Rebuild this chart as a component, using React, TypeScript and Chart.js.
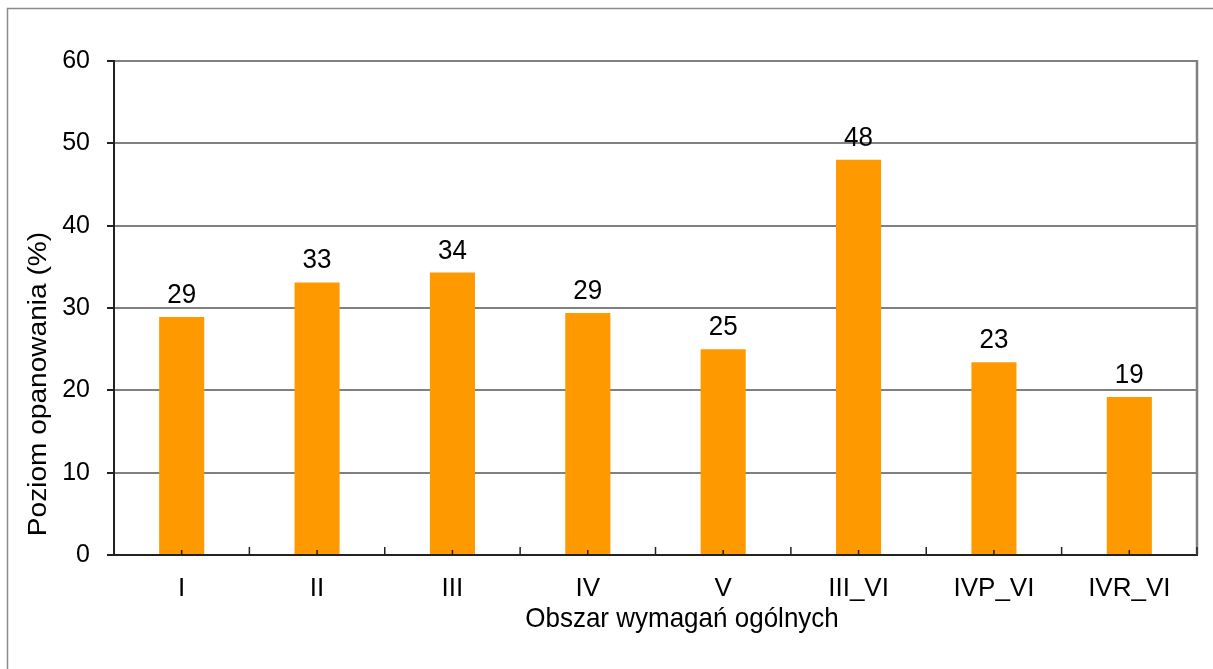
import React, { useEffect, useRef } from "react";
import { Chart, registerables } from "chart.js";

Chart.register(...registerables);

const categories = ["I", "II", "III", "IV", "V", "III_VI", "IVP_VI", "IVR_VI"];
const values = [28.9, 33.1, 34.3, 29.4, 25.0, 48.0, 23.4, 19.2];
const valueLabels = ["29", "33", "34", "29", "25", "48", "23", "19"];
const yTicks = [0, 10, 20, 30, 40, 50, 60];
const xTitle = "Obszar wymagań ogólnych";
const yTitle = "Poziom opanowania (%)";

const FONT = "'Liberation Sans', Arial, sans-serif";
const STRETCH = 1.08;

const framePlugin = {
  id: "frame",
  beforeDraw(chart: any) {
    const ctx = chart.ctx;
    ctx.save();
    ctx.fillStyle = "#ffffff";
    ctx.fillRect(0, 0, chart.width, chart.height);
    ctx.strokeStyle = "#8c8c8c";
    ctx.lineWidth = 1.5;
    ctx.strokeRect(7.5, 8.5, 1300, 700);
    ctx.restore();
  },
  afterDraw(chart: any) {
    const ctx = chart.ctx;
    const { left, right, top, bottom } = chart.chartArea;
    const xs = chart.scales.x;
    ctx.save();
    // right border
    ctx.strokeStyle = "#808080";
    ctx.lineWidth = 2.5;
    ctx.beginPath();
    ctx.moveTo(right, top - 1);
    ctx.lineTo(right, bottom);
    ctx.stroke();
    // x tick marks (inside)
    ctx.strokeStyle = "#222222";
    ctx.lineWidth = 1.5;
    const n = categories.length;
    const step = (right - left) / n;
    for (let i = 0; i <= n; i++) {
      const x = left + step * i;
      ctx.beginPath();
      ctx.moveTo(x, bottom);
      ctx.lineTo(x, bottom - 8);
      ctx.stroke();
    }
    for (let i = 0; i < n; i++) {
      const x = xs.getPixelForValue(i);
      ctx.beginPath();
      ctx.moveTo(x, bottom);
      ctx.lineTo(x, bottom - 5);
      ctx.stroke();
    }
    ctx.restore();

    // axis titles
    ctx.save();
    ctx.fillStyle = "#000000";
    ctx.font = `26px ${FONT}`;
    ctx.textAlign = "center";
    ctx.textBaseline = "alphabetic";
    ctx.translate(682, 627);
    ctx.scale(1, STRETCH);
    ctx.fillText(xTitle, 0, 0);
    ctx.restore();

    ctx.save();
    ctx.fillStyle = "#000000";
    ctx.font = `26px ${FONT}`;
    ctx.textAlign = "center";
    ctx.textBaseline = "alphabetic";
    ctx.translate(46, 384);
    ctx.rotate(-Math.PI / 2);
    ctx.scale(STRETCH, 1);
    ctx.fillText(yTitle, 0, 0);
    ctx.restore();
  },
};

const labelPlugin = {
  id: "valueLabels",
  afterDatasetsDraw(chart: any) {
    const ctx = chart.ctx;
    const meta = chart.getDatasetMeta(0);
    meta.data.forEach((bar: any, i: number) => {
      ctx.save();
      ctx.fillStyle = "#000000";
      ctx.font = `26px ${FONT}`;
      ctx.textAlign = "center";
      ctx.textBaseline = "alphabetic";
      ctx.translate(bar.x, bar.y - 14);
      ctx.scale(1, STRETCH);
      ctx.fillText(valueLabels[i], 0, 0);
      ctx.restore();
    });
  },
};

export default function App() {
  const ref = useRef<HTMLCanvasElement>(null);
  useEffect(() => {
    document.body.style.margin = "0";
    const chart = new Chart(ref.current as HTMLCanvasElement, {
      type: "bar",
      data: {
        labels: categories,
        datasets: [
          {
            data: values,
            backgroundColor: "#FF9900",
            borderWidth: 0,
            barPercentage: 0.333,
            categoryPercentage: 1,
          },
        ],
      },
      options: {
        responsive: false,
        animation: false,
        layout: { padding: { left: 0, right: 16, top: 61, bottom: 0 } },
        plugins: { legend: { display: false }, tooltip: { enabled: false } },
        scales: {
          x: {
            grid: { display: false },
            border: { display: true, color: "#222222", width: 2 },
            ticks: { color: "#000", font: { size: 26, family: FONT }, padding: 10, maxRotation: 0 },
            afterFit(scale: any) {
              scale.height = 114;
            },
          },
          y: {
            min: 0,
            max: 60,
            afterBuildTicks(scale: any) {
              scale.ticks = yTicks.map((v) => ({ value: v }));
            },
            grid: { color: "#808080", lineWidth: 2, tickLength: 7, tickColor: "#222222", drawTicks: true },
            border: { display: true, color: "#222222", width: 2 },
            ticks: { color: "#000", font: { size: 25, family: FONT }, padding: 17 },
            afterFit(scale: any) {
              scale.width = 114;
            },
          },
        },
      },
      plugins: [framePlugin, labelPlugin],
    });
    return () => chart.destroy();
  }, []);
  return (
    <div style={{ width: 1213, height: 669 }}>
      <canvas ref={ref} width={1213} height={669} style={{ display: "block" }} />
    </div>
  );
}
